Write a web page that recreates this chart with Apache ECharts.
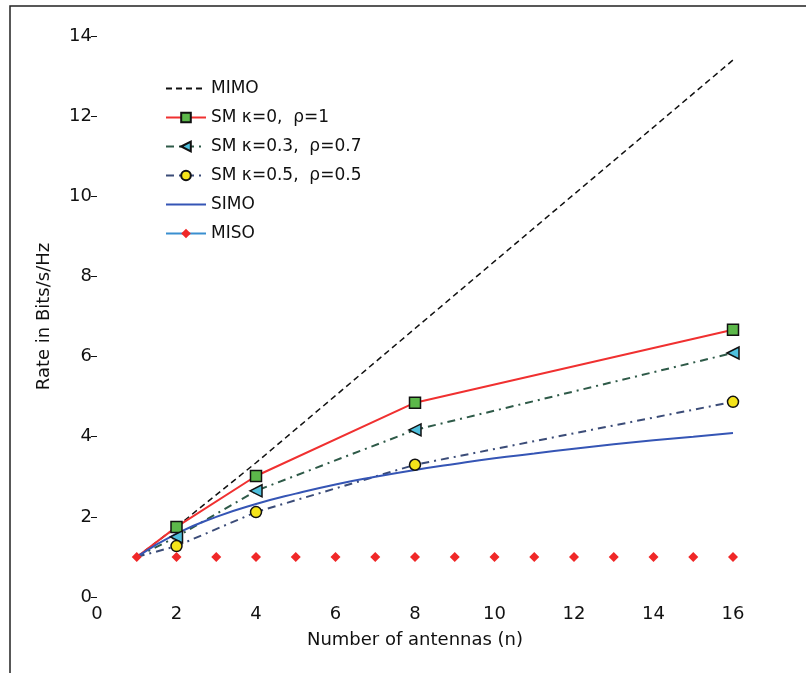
<!DOCTYPE html>
<html><head><meta charset="utf-8">
<script src="https://cdn.jsdelivr.net/npm/echarts@6/dist/echarts.min.js"></script>
<style>html,body{margin:0;padding:0;background:#fff}#c{width:806px;height:673px}</style>
</head><body><div id="c"></div>
<script>
const xTicks = [0,2,4,6,8,10,12,14,16];
const yTicks = [0,2,4,6,8,10,12,14];
const seriesNames = ['MIMO','SM κ=0,  ρ=1','SM κ=0.3,  ρ=0.7','SM κ=0.5,  ρ=0.5','SIMO','MISO'];
const xPts = [1,2,4,8,16];
const mimo = [1,1.75,3.35,6.7,13.4];
const sm1 = [1,1.75,3.02,4.85,6.67];
const sm2 = [1,1.5,2.65,4.17,6.09];
const sm3 = [1,1.27,2.12,3.3,4.87];
const xAll = [1,2,3,4,5,6,7,8,9,10,11,12,13,14,15,16];
const simo = [1,1.58,2,2.32,2.58,2.81,3.0,3.17,3.32,3.46,3.58,3.7,3.81,3.91,4.0,4.09];
const miso = [1,1,1,1,1,1,1,1,1,1,1,1,1,1,1,1];

// first point (x=1) drawn without marker, as in the reference
const pair = (xs, ys) => xs.map((x,i)=> i===0 ? {value:[x, ys[i]], symbol:'none'} : [x, ys[i]]);
const pairAll = (xs, ys) => xs.map((x,i)=>[x, ys[i]]);
const font = 'DejaVu Sans, sans-serif';
const chart = echarts.init(document.getElementById('c'));
chart.setOption({
  animation:false,
  backgroundColor:'#fff',
  grid:{left:97,right:73,top:36,bottom:76},
  graphic:[{type:'polyline',shape:{points:[[10,673],[10,6],[806,6]]},style:{stroke:'#222',lineWidth:1.5,fill:null}}],
  legend:{
    left:160, top:75, orient:'vertical', itemGap:12, itemWidth:40, itemHeight:12,
    textStyle:{fontFamily:font,fontSize:17,color:'#111'},
    data:[
      {name:seriesNames[0],itemStyle:{opacity:0}},{name:seriesNames[1]},{name:seriesNames[2]},{name:seriesNames[3]},
      {name:seriesNames[4],itemStyle:{opacity:0}},
      {name:seriesNames[5],lineStyle:{color:'#3a8fd0',width:2,opacity:1}}
    ]
  },
  xAxis:{type:'value',min:0,max:16,interval:2,
    name:'Number of antennas (n)',nameLocation:'middle',nameGap:34,
    nameTextStyle:{fontFamily:font,fontSize:18,color:'#111'},
    axisLine:{show:false},axisTick:{show:false},splitLine:{show:false},
    axisLabel:{fontFamily:font,fontSize:18,color:'#111',margin:8}},
  yAxis:{type:'value',min:0,max:14,interval:2,
    name:'Rate in Bits/s/Hz',nameLocation:'middle',nameGap:44,
    nameTextStyle:{fontFamily:font,fontSize:18,color:'#111'},
    axisLine:{show:false},axisTick:{show:true,inside:false,length:6,lineStyle:{color:'#111'}},splitLine:{show:false},
    axisLabel:{fontFamily:font,fontSize:18,color:'#111',margin:5}},
  series:[
    {name:seriesNames[0],type:'line',data:pairAll(xPts,mimo),symbol:'none',
      lineStyle:{color:'#111',width:1.5,type:[6,4]},itemStyle:{color:'#111'}},
    {name:seriesNames[1],type:'line',data:pair(xPts,sm1),symbol:'rect',symbolSize:11,
      lineStyle:{color:'#f03030',width:2},itemStyle:{color:'#5cb84a',borderColor:'#111',borderWidth:1.5}},
    {name:seriesNames[2],type:'line',data:pair(xPts,sm2),symbol:'triangle',symbolRotate:90,symbolSize:12,
      lineStyle:{color:'#2e5a48',width:2,type:[8,5,2,5]},itemStyle:{color:'#4fc0dd',borderColor:'#111',borderWidth:1.5}},
    {name:seriesNames[3],type:'line',data:pair(xPts,sm3),symbol:'circle',symbolSize:11,
      lineStyle:{color:'#3b4c78',width:2,type:[8,5,2,5]},itemStyle:{color:'#f5e41a',borderColor:'#111',borderWidth:1.5}},
    {name:seriesNames[4],type:'line',data:pairAll(xAll,simo),symbol:'none',smooth:true,
      lineStyle:{color:'#3555b5',width:2},itemStyle:{color:'#3555b5'}},
    {name:seriesNames[5],type:'line',data:pairAll(xAll,miso),symbol:'diamond',symbolSize:10,z:5,
      lineStyle:{color:'#3a8fd0',width:0,opacity:0},itemStyle:{color:'#f02828'}}
  ]
});
</script></body></html>
